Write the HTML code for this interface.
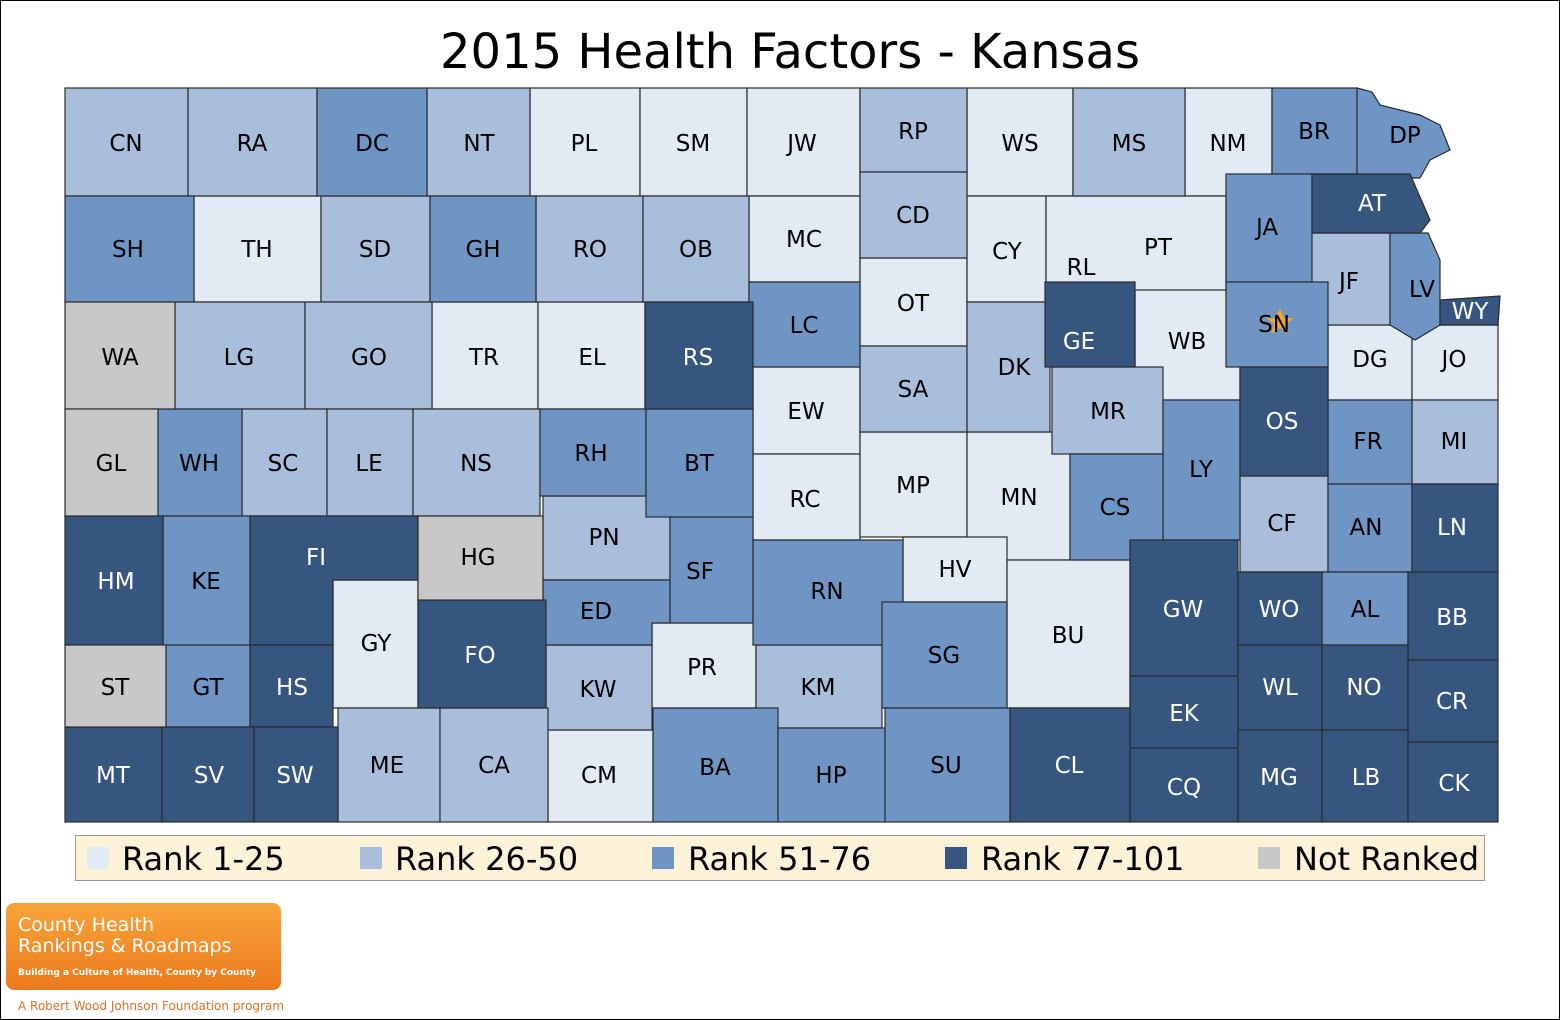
<!DOCTYPE html>
<html><head><meta charset="utf-8"><style>
body{margin:0;background:#fff;}
svg{display:block}
text{font-family:"DejaVu Sans","Liberation Sans",sans-serif;}
</style></head><body>
<svg width="1560" height="1020" viewBox="0 0 1560 1020" xmlns="http://www.w3.org/2000/svg">
<rect x="0.5" y="0.5" width="1559" height="1019" fill="#fff" stroke="#000"/>
<text x="790" y="68" font-size="48" text-anchor="middle" fill="#000">2015 Health Factors - Kansas</text>
<g stroke="#2b2b2b" stroke-width="1.2">
<g fill="#e2eaf3">
<rect x="530" y="88" width="110" height="108"/><rect x="640" y="88" width="107" height="108"/><rect x="747" y="88" width="113" height="108"/>
<rect x="967" y="88" width="106" height="108"/><rect x="1185" y="88" width="87" height="108"/>
<rect x="194" y="196" width="127" height="106"/><rect x="749" y="196" width="111" height="86"/><rect x="860" y="258" width="107" height="88"/>
<rect x="967" y="196" width="79" height="106"/><rect x="1046" y="196" width="180" height="100"/><rect x="1135" y="290" width="105" height="110"/>
<rect x="1328" y="325" width="84" height="75"/><rect x="1412" y="325" width="86" height="75"/>
<rect x="432" y="302" width="106" height="107"/><rect x="538" y="302" width="107" height="107"/>
<rect x="753" y="367" width="107" height="87"/><rect x="753" y="454" width="107" height="86"/><rect x="860" y="432" width="107" height="105"/>
<rect x="967" y="432" width="103" height="128"/><rect x="903" y="537" width="104" height="65"/><rect x="1007" y="560" width="123" height="148"/>
<rect x="333" y="580" width="85" height="128"/><rect x="652" y="623" width="104" height="85"/><rect x="548" y="730" width="105" height="92"/>
</g>
<g fill="#a9bedb">
<rect x="65" y="88" width="123" height="108"/><rect x="188" y="88" width="129" height="108"/><rect x="427" y="88" width="103" height="108"/>
<rect x="860" y="88" width="107" height="84"/><rect x="860" y="172" width="107" height="86"/><rect x="1073" y="88" width="112" height="108"/>
<rect x="321" y="196" width="109" height="106"/><rect x="536" y="196" width="107" height="106"/><rect x="643" y="196" width="106" height="106"/>
<rect x="1310" y="233" width="80" height="92"/><rect x="175" y="302" width="130" height="107"/><rect x="305" y="302" width="127" height="107"/>
<rect x="860" y="346" width="107" height="86"/><rect x="967" y="302" width="83" height="130"/><rect x="1052" y="367" width="111" height="87"/>
<rect x="1412" y="400" width="86" height="84"/><rect x="242" y="409" width="85" height="107"/><rect x="327" y="409" width="86" height="107"/>
<rect x="413" y="409" width="127" height="107"/><rect x="1240" y="476" width="88" height="96"/><rect x="543" y="496" width="127" height="84"/>
<rect x="546" y="645" width="106" height="85"/><rect x="756" y="645" width="126" height="83"/>
<rect x="338" y="708" width="102" height="114"/><rect x="440" y="708" width="108" height="114"/>
</g>
<g fill="#6f95c4">
<rect x="317" y="88" width="110" height="108"/><rect x="1272" y="88" width="85" height="86"/><path d="M1357 88 L1372 92 L1380 105 L1400 110 L1420 115 L1440 125 L1450 150 L1430 160 L1420 178 L1357 178 Z"/>
<rect x="65" y="196" width="129" height="106"/><rect x="430" y="196" width="106" height="106"/><rect x="1226" y="174" width="86" height="108"/>
<path d="M1390 233 L1428 233 L1440 260 L1440 325 L1415 340 L1390 325 Z"/>
<rect x="749" y="282" width="111" height="85"/><rect x="1226" y="282" width="102" height="85"/>
<rect x="1163" y="400" width="77" height="140"/><rect x="1328" y="400" width="84" height="84"/>
<rect x="158" y="409" width="84" height="107"/><rect x="540" y="409" width="106" height="87"/><rect x="646" y="409" width="107" height="108"/>
<rect x="1070" y="454" width="93" height="106"/><rect x="1328" y="484" width="84" height="88"/>
<rect x="163" y="516" width="87" height="129"/><rect x="670" y="517" width="83" height="106"/><path d="M543 580 L670 580 L670 623 L652 623 L652 645 L543 645 Z"/>
<rect x="753" y="540" width="150" height="105"/><rect x="1322" y="572" width="86" height="73"/><rect x="882" y="602" width="125" height="106"/>
<rect x="166" y="645" width="84" height="82"/><rect x="653" y="708" width="125" height="114"/><rect x="778" y="728" width="107" height="94"/><rect x="885" y="708" width="125" height="114"/>
</g>
<g fill="#36557f">
<path d="M1312 174 L1410 174 L1430 220 L1420 233 L1312 233 Z"/><path d="M1440 300 L1500 296 L1498 325 L1440 325 Z"/>
<rect x="645" y="302" width="108" height="107"/><rect x="1045" y="282" width="90" height="85"/><rect x="1240" y="367" width="88" height="109"/>
<rect x="1412" y="484" width="86" height="88"/><rect x="65" y="516" width="98" height="129"/><path d="M250 516 L418 516 L418 580 L333 580 L333 645 L250 645 Z"/>
<rect x="418" y="600" width="128" height="108"/><rect x="1130" y="540" width="108" height="136"/><rect x="1238" y="572" width="84" height="73"/>
<rect x="1408" y="572" width="90" height="88"/><rect x="250" y="645" width="83" height="82"/><rect x="1238" y="645" width="84" height="85"/><rect x="1322" y="645" width="86" height="85"/>
<rect x="1408" y="660" width="90" height="82"/><rect x="1130" y="676" width="108" height="72"/><rect x="1130" y="748" width="108" height="74"/>
<rect x="65" y="727" width="97" height="95"/><rect x="162" y="727" width="92" height="95"/><rect x="254" y="727" width="84" height="95"/>
<rect x="1010" y="708" width="120" height="114"/><rect x="1238" y="730" width="84" height="92"/><rect x="1322" y="730" width="86" height="92"/><rect x="1408" y="742" width="90" height="80"/>
</g>
<g fill="#c8c8c8">
<rect x="65" y="302" width="110" height="107"/><rect x="65" y="409" width="93" height="107"/><rect x="418" y="516" width="125" height="84"/><rect x="65" y="645" width="101" height="82"/>
</g>
</g>
<polygon points="1280,308 1284,318 1294,318 1286,324 1289,334 1280,328 1271,334 1274,324 1266,318 1276,318" fill="#f5a623"/>
<g font-size="23" text-anchor="middle" fill="#000">
<text x="126" y="151">CN</text><text x="252" y="151">RA</text><text x="372" y="151">DC</text><text x="479" y="151">NT</text><text x="584" y="151">PL</text><text x="693" y="151">SM</text><text x="802" y="151">JW</text><text x="913" y="139">RP</text><text x="1020" y="151">WS</text><text x="1129" y="151">MS</text><text x="1228" y="151">NM</text><text x="1314" y="139">BR</text><text x="1405" y="143">DP</text>
<text x="128" y="257">SH</text><text x="257" y="257">TH</text><text x="375" y="257">SD</text><text x="483" y="257">GH</text><text x="590" y="257">RO</text><text x="696" y="257">OB</text><text x="804" y="247">MC</text><text x="913" y="223">CD</text><text x="1007" y="259">CY</text><text x="1081" y="275">RL</text><text x="1158" y="255">PT</text><text x="1267" y="235">JA</text><text x="1349" y="289">JF</text><text x="1422" y="297">LV</text>
<text x="120" y="365">WA</text><text x="239" y="365">LG</text><text x="369" y="365">GO</text><text x="484" y="365">TR</text><text x="592" y="365">EL</text><text x="804" y="333">LC</text><text x="913" y="311">OT</text><text x="1014" y="375">DK</text><text x="1187" y="349">WB</text><text x="1274" y="332">SN</text><text x="1370" y="367">DG</text><text x="1454" y="367">JO</text>
<text x="806" y="419">EW</text><text x="913" y="397">SA</text><text x="1108" y="419">MR</text><text x="1368" y="449">FR</text><text x="1454" y="449">MI</text>
<text x="111" y="471">GL</text><text x="199" y="471">WH</text><text x="283" y="471">SC</text><text x="369" y="471">LE</text><text x="476" y="471">NS</text><text x="591" y="461">RH</text><text x="699" y="471">BT</text><text x="805" y="507">RC</text><text x="913" y="493">MP</text><text x="1019" y="505">MN</text><text x="1115" y="515">CS</text><text x="1201" y="477">LY</text><text x="1282" y="531">CF</text><text x="1366" y="535">AN</text>
<text x="206" y="589">KE</text><text x="478" y="565">HG</text><text x="604" y="545">PN</text><text x="700" y="579">SF</text><text x="596" y="619">ED</text><text x="827" y="599">RN</text><text x="955" y="577">HV</text><text x="1068" y="643">BU</text><text x="1365" y="617">AL</text>
<text x="376" y="651">GY</text><text x="598" y="697">KW</text><text x="702" y="675">PR</text><text x="818" y="695">KM</text><text x="944" y="663">SG</text><text x="115" y="695">ST</text><text x="208" y="695">GT</text>
<text x="387" y="773">ME</text><text x="494" y="773">CA</text><text x="599" y="783">CM</text><text x="715" y="775">BA</text><text x="831" y="783">HP</text><text x="946" y="773">SU</text>
</g>
<g font-size="23" text-anchor="middle" fill="#fff">
<text x="1372" y="211">AT</text><text x="1470" y="319">WY</text><text x="698" y="365">RS</text><text x="1079" y="349">GE</text><text x="1282" y="429">OS</text><text x="1452" y="535">LN</text>
<text x="116" y="589">HM</text><text x="316" y="565">FI</text><text x="480" y="663">FO</text><text x="1183" y="617">GW</text><text x="1279" y="617">WO</text><text x="1452" y="625">BB</text>
<text x="292" y="695">HS</text><text x="1280" y="695">WL</text><text x="1364" y="695">NO</text><text x="1452" y="709">CR</text><text x="1184" y="721">EK</text><text x="1184" y="795">CQ</text>
<text x="113" y="783">MT</text><text x="209" y="783">SV</text><text x="295" y="783">SW</text><text x="1069" y="773">CL</text><text x="1279" y="785">MG</text><text x="1366" y="785">LB</text><text x="1454" y="791">CK</text>
</g>
<rect x="75.5" y="835.5" width="1409" height="45" fill="#fbf2d8" stroke="#999"/>
<g font-size="32" fill="#000">
<rect x="87" y="847" width="22" height="22" fill="#e2eaf3"/><text x="122" y="870">Rank 1-25</text>
<rect x="360" y="847" width="22" height="22" fill="#a9bedb"/><text x="395" y="870">Rank 26-50</text>
<rect x="652" y="847" width="22" height="22" fill="#6f95c4"/><text x="688" y="870">Rank 51-76</text>
<rect x="945" y="847" width="22" height="22" fill="#36557f"/><text x="981" y="870">Rank 77-101</text>
<rect x="1258" y="847" width="22" height="22" fill="#c8c8c8"/><text x="1294" y="870">Not Ranked</text>
</g>
<defs><linearGradient id="og" x1="0" y1="0" x2="0" y2="1"><stop offset="0" stop-color="#f8a43a"/><stop offset="1" stop-color="#ec7a1e"/></linearGradient></defs>
<rect x="6" y="903" width="275" height="87" rx="8" fill="url(#og)"/>
<text x="18" y="931" font-size="19" fill="#fff">County Health</text>
<text x="18" y="952" font-size="19" fill="#fff">Rankings &amp; Roadmaps</text>
<text x="18" y="975" font-size="9" fill="#fff" font-weight="bold">Building a Culture of Health, County by County</text>
<text x="18" y="1010" font-size="12" fill="#e07020" font-family="Liberation Serif,serif">A Robert Wood Johnson Foundation program</text>
</svg>
</body></html>
